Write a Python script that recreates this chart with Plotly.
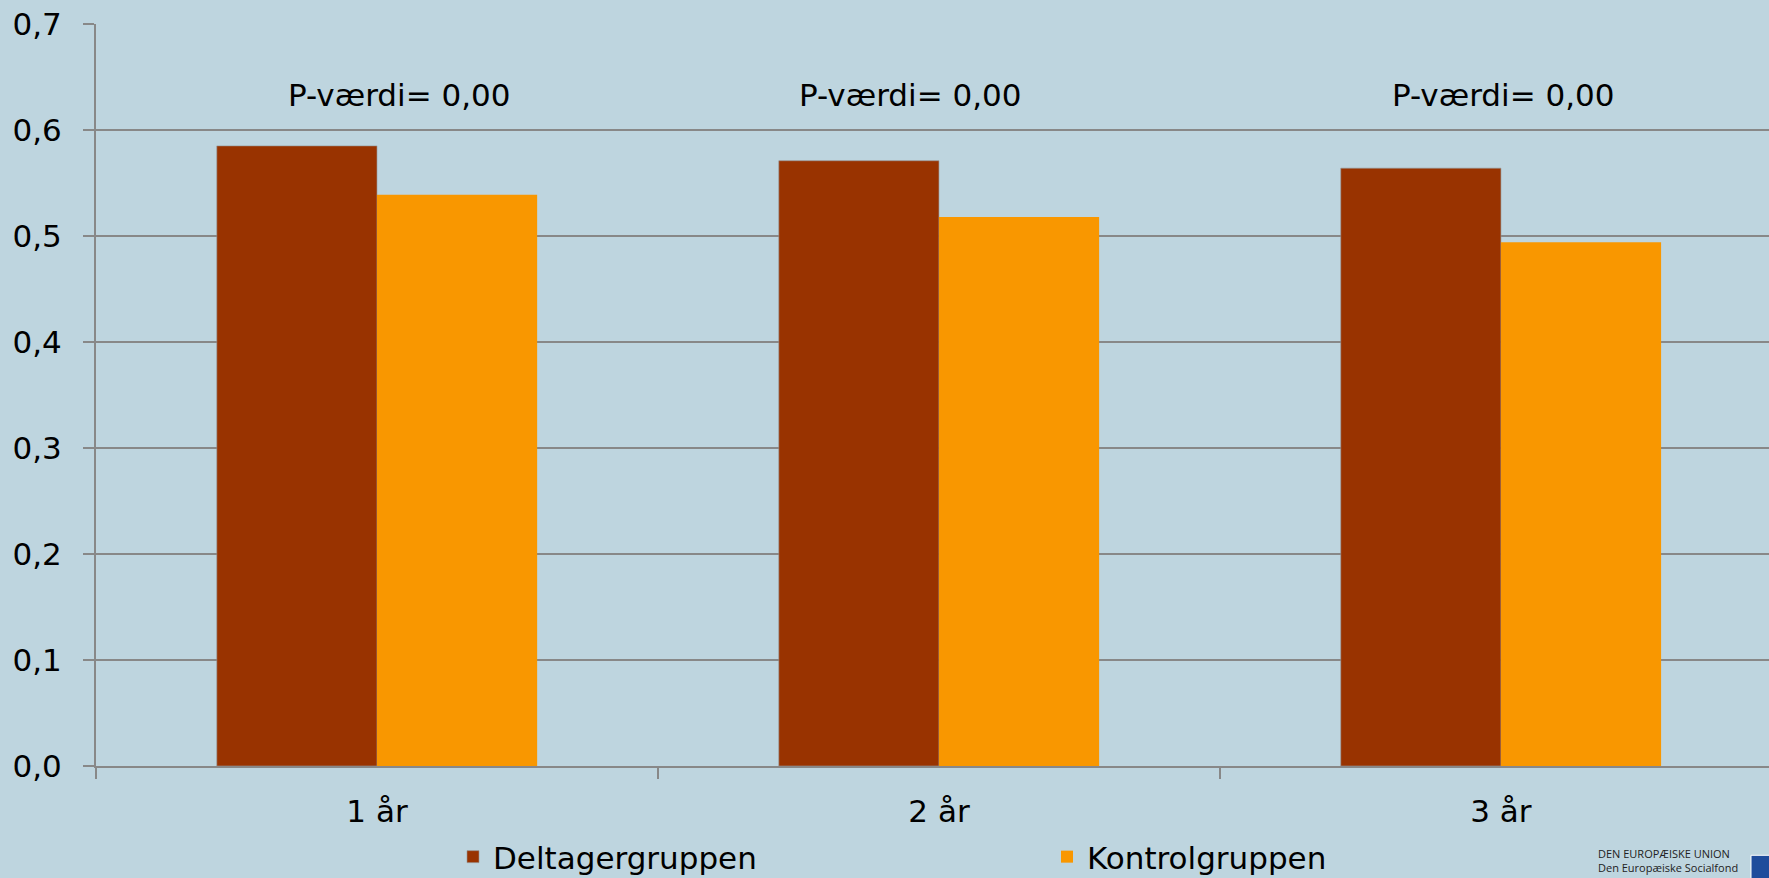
import plotly.graph_objects as go

categories = ["1 år", "2 år", "3 år"]
deltager = [0.585, 0.571, 0.564]
kontrol = [0.539, 0.518, 0.494]
series_names = ["Deltagergruppen", "Kontrolgruppen"]
p_labels = ["P-værdi= 0,00", "P-værdi= 0,00", "P-værdi= 0,00"]
p_label_x = [0.04, 0.95, 2.005]
y_ticks = [0.0, 0.1, 0.2, 0.3, 0.4, 0.5, 0.6, 0.7]
y_ticklabels = ["0,0", "0,1", "0,2", "0,3", "0,4", "0,5", "0,6", "0,7"]

BG = "#BED5DF"
GRID = "#888888"
FONT = "DejaVu Sans"
W = 1769.0
H = 878.0
PW = 1673.0
PH = 742.0

fig = go.Figure()
fig.add_trace(go.Bar(x=categories, y=deltager, name=series_names[0],
                     marker=dict(color="#993300", line=dict(color="rgba(150,150,150,0.6)", width=1))))
fig.add_trace(go.Bar(x=categories, y=kontrol, name=series_names[1],
                     marker=dict(color="#F99700", line=dict(width=0))))

for txt, xp in zip(p_labels, p_label_x):
    fig.add_annotation(x=xp, y=0.633, xref="x", yref="y", text=txt, showarrow=False,
                       font=dict(family=FONT, size=31, color="black"))

# logo text
fig.add_annotation(x=(1597 - 96) / PW, y=-(876 - 765.7) / PH, xref="paper", yref="paper",
                   xanchor="left", yanchor="bottom", showarrow=False, borderpad=0,
                   text="DEN EUROPÆISKE UNION<br>Den Europæiske Socialfond", align="left",
                   font=dict(family="Open Sans", size=11, color="#222222"))
fig.add_shape(type="rect", xref="paper", yref="paper",
              x0=(1751 - 96) / PW, x1=(1790 - 96) / PW,
              y0=-(855 - 765.7) / PH, y1=-(900 - 765.7) / PH,
              fillcolor="#1F4C9C", line=dict(color="white", width=1), layer="above")

fig.update_layout(
    width=1769, height=878,
    margin=dict(l=96, r=0, t=24, b=112, autoexpand=False),
    paper_bgcolor=BG, plot_bgcolor=BG,
    barmode="group", bargap=0.43, bargroupgap=0,
    font=dict(family=FONT, size=31, color="black"),
    showlegend=True,
    legend=dict(orientation="h", xref="container", yref="container",
                x=453 / W, xanchor="left",
                y=1 - 857 / H, yanchor="middle",
                entrywidth=549, entrywidthmode="pixels",
                font=dict(family=FONT, size=31, color="black"),
                bgcolor="rgba(0,0,0,0)", borderwidth=0),
    hovermode=False,
)
fig.update_xaxes(range=[-0.5, 2.477], showline=True, linecolor=GRID, linewidth=2,
                 ticks="outside", tickson="boundaries", ticklen=11, tickwidth=2, tickcolor=GRID,
                 showgrid=False, ticklabelstandoff=17,
                 tickfont=dict(family=FONT, size=31, color="black"))
fig.update_yaxes(range=[0, 0.7], tickvals=y_ticks, ticktext=y_ticklabels,
                 showline=True, linecolor=GRID, linewidth=2,
                 ticks="outside", ticklen=11, tickwidth=2, tickcolor=GRID,
                 showgrid=True, gridcolor=GRID, gridwidth=2, zeroline=False,
                 ticklabelstandoff=15,
                 tickfont=dict(family=FONT, size=31, color="black"))

fig.write_html("out.html", config={"displayModeBar": False},
               post_script="document.body.style.margin='0';document.body.style.overflow='hidden';")
